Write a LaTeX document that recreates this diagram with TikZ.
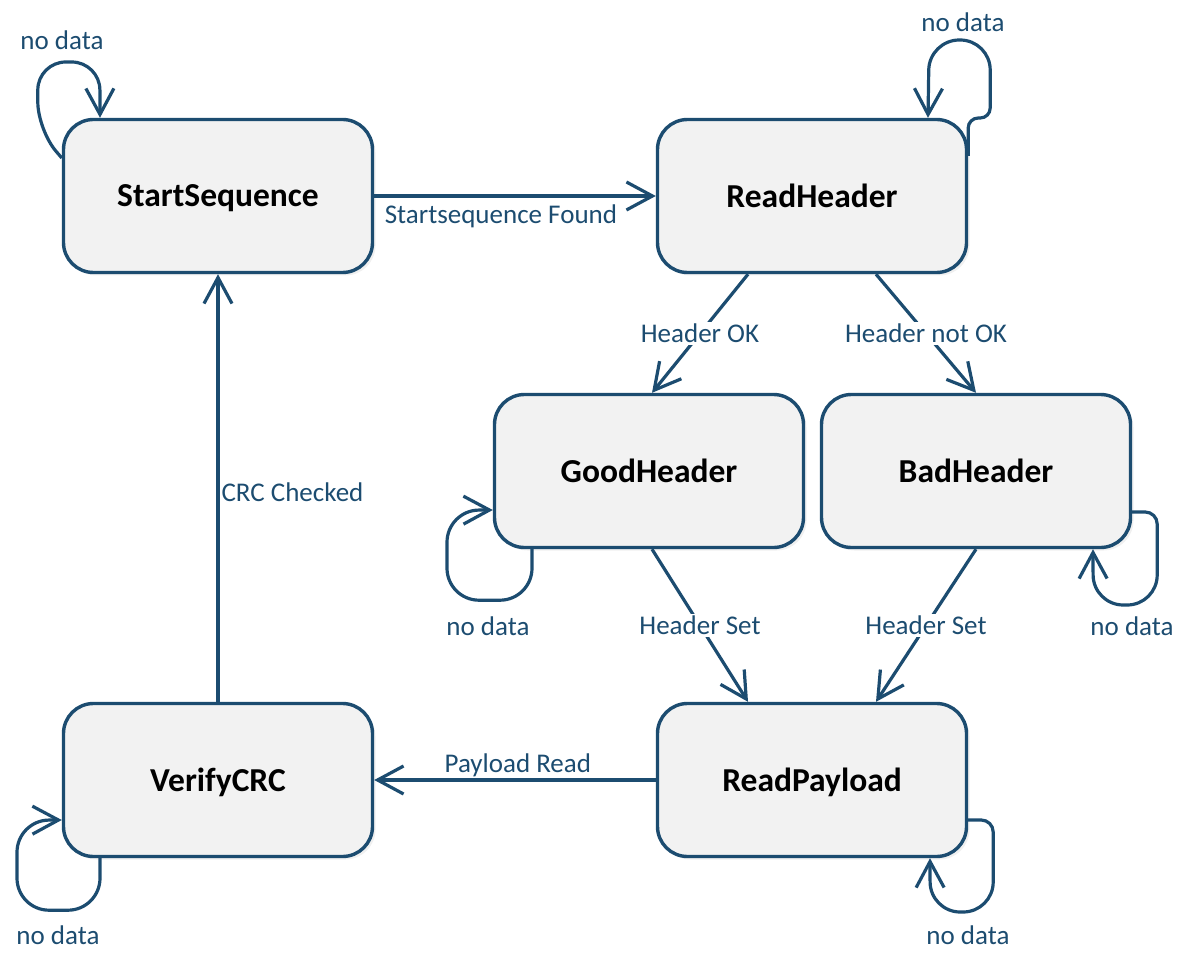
\documentclass[tikz,border=0pt]{standalone}
\usepackage{fontspec}
\setmainfont{Carlito}
\usepackage{tikz}
\usetikzlibrary{arrows.meta,calc,positioning,shadows}
\definecolor{fsmblue}{RGB}{28,76,112}
\definecolor{fsmfill}{RGB}{242,242,242}
\tikzset{
  state/.style = {draw=fsmblue, line width=3.4pt, fill=fsmfill, rounded corners=30pt,
                  minimum width=309pt, minimum height=153pt, text depth=0pt,
                  font=\fontsize{33.5}{40}\selectfont\bfseries,
                  drop shadow={opacity=0.12, shadow xshift=3pt, shadow yshift=-3pt}},
  edge/.style  = {draw=fsmblue, line width=3.2pt,
                  -{Straight Barb[length=26pt,width=28pt,line width=3.2pt]}},
  lbl/.style   = {text=fsmblue, font=\fontsize{27}{32}\selectfont, inner sep=2pt},
  onlbl/.style = {lbl, fill=white},
}
\begin{document}
\begin{tikzpicture}[x=1pt,y=-1pt]
 \useasboundingbox (0,0) rectangle (1190,965);
 % states
 \node[state] (ss) at (218,196) {StartSequence};
 \node[state] (rh) at (812,196) {ReadHeader};
 \node[state] (gh) at (649,471) {GoodHeader};
 \node[state] (bh) at (976,471) {BadHeader};
 \node[state] (vc) at (218,780) {VerifyCRC};
 \node[state] (rp) at (812,780) {ReadPayload};
 % transitions
 \draw[edge] (ss.east) -- node[lbl,below=5pt,pos=0.45] {Startsequence Found} (rh.west);
 \draw[edge] ([xshift=-64pt]rh.south) -- node[onlbl] {Header OK} ([xshift=3pt]gh.north);
 \draw[edge] ([xshift=64pt]rh.south) -- node[onlbl] {Header not OK} (bh.north);
 \draw[edge] ([xshift=3pt]gh.south) -- node[onlbl] {Header Set} ([xshift=-64pt]rp.north);
 \draw[edge] (bh.south) -- node[onlbl] {Header Set} ([xshift=64pt]rp.north);
 \draw[edge] (rp.west) -- node[lbl,above,pos=0.49] {Payload Read} (vc.east);
 \draw[edge] (vc.north) -- node[lbl,right,pos=0.49] {CRC Checked} (ss.south);
 % self loops
 \draw[edge,rounded corners=28pt] ([yshift=38pt]ss.west) -- ++(-24,-28) -- ++(0,-68)
     -- ++(62,0) -- ([xshift=-118pt]ss.north);
 \node[lbl] (ssnd) at (62,40) {no data};
 \draw[edge] ([yshift=40pt]rh.east) [rounded corners=10pt] -- ++(0,-38) -- ++(22,0)
     [rounded corners=30pt] -- ++(0,-78) -- ++(-61,0) -- ([xshift=116pt]rh.north);
 \node[lbl] (rhnd) at (963,22) {no data};
 \draw[edge,rounded corners=32pt] ([xshift=-117pt]gh.south) -- ++(0,51) -- ++(-85,0)
     -- ++(0,-90) [rounded corners=18pt] -- ([yshift=-39pt]gh.west);
 \node[lbl] (ghnd) at (488,626) {no data};
 \draw[edge,rounded corners=30pt] ([yshift=-41pt]bh.east) [rounded corners=12pt] -- ++(25,0)
     [rounded corners=30pt] -- ++(0,93) -- ++(-64,0) -- ([xshift=117pt]bh.south);
 \node[lbl] (bhnd) at (1132,626) {no data};
 \draw[edge,rounded corners=32pt] ([xshift=-118pt]vc.south) -- ++(0,52) -- ++(-83,0)
     -- ++(0,-90) [rounded corners=18pt] -- ([yshift=-40pt]vc.west);
 \node[lbl] (vcnd) at (58,935) {no data};
 \draw[edge] ([yshift=-40pt]rp.east) [rounded corners=12pt] -- ++(25,0)
     [rounded corners=30pt] -- ++(0,92) -- ++(-63,0) -- ([xshift=118pt]rp.south);
 \node[lbl] (rpnd) at (968,935) {no data};
\end{tikzpicture}
\end{document}
